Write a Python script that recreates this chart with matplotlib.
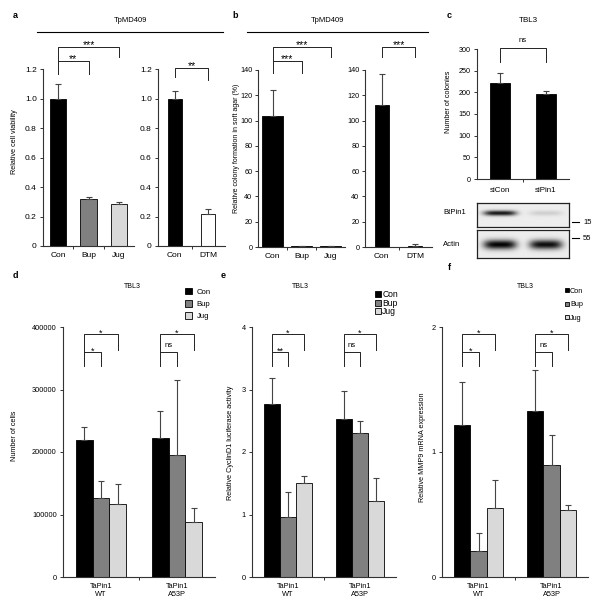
import numpy as np
import matplotlib
matplotlib.use('Agg')
import matplotlib.pyplot as plt
from matplotlib.transforms import blended_transform_factory
from matplotlib.patches import Patch

plt.rcParams['font.family'] = ['Liberation Sans', 'DejaVu Sans']

# ---------------- data ----------------
a_cats = ['Con', 'Bup', 'Jug']
a_vals = [1.0, 0.32, 0.285]
a_err = [0.095, 0.01, 0.015]
a2_cats = ['Con', 'DTM']
a2_vals = [1.0, 0.22]
a2_err = [0.05, 0.03]

b_cats = ['Con', 'Bup', 'Jug']
b_vals = [104, 0.6, 0.6]
b_err = [20, 0.4, 0.4]
b2_cats = ['Con', 'DTM']
b2_vals = [112, 1.0]
b2_err = [25, 1.0]

c_cats = ['siCon', 'siPin1']
c_vals = [222, 197]
c_err = [22, 6]
blot_btpin1 = [0.85, 0.12]
blot_actin = [0.92, 0.88]
blot_markers = ['15', '55']

groups = ['TaPin1\nWT', 'TaPin1\nA53P']
treatments = ['Con', 'Bup', 'Jug']
d_con = [220000, 223000]; d_con_err = [20000, 42000]
d_bup = [127000, 195000]; d_bup_err = [27000, 120000]
d_jug = [117000, 88000];  d_jug_err = [32000, 23000]
e_con = [2.77, 2.53]; e_con_err = [0.42, 0.45]
e_bup = [0.96, 2.30]; e_bup_err = [0.40, 0.19]
e_jug = [1.51, 1.21]; e_jug_err = [0.10, 0.37]
f_con = [1.22, 1.33]; f_con_err = [0.34, 0.33]
f_bup = [0.21, 0.90]; f_bup_err = [0.14, 0.24]
f_jug = [0.55, 0.535]; f_jug_err = [0.23, 0.04]

treat_colors = ['#000000', '#808080', '#d9d9d9']

# ---------------- helpers ----------------
W, H = 601, 615
fig = plt.figure(figsize=(W / 100, H / 100), dpi=100)


def axpx(l, t, r, b):
    return fig.add_axes([l / W, 1 - b / H, (r - l) / W, (b - t) / H])


def ftext(x, y, s, **kw):
    return fig.text(x / W, 1 - y / H, s, **kw)


def style(ax, n, ylim, yticks, ylabels, fs, xfs, labels, ypad=2):
    ax.set_xlim(-0.5, n - 0.5)
    ax.set_ylim(*ylim)
    for s in ['top', 'right']:
        ax.spines[s].set_visible(False)
    for s in ['left', 'bottom']:
        ax.spines[s].set_color('#333333')
        ax.spines[s].set_linewidth(0.8)
    ax.set_yticks(yticks)
    ax.set_yticklabels(ylabels, fontsize=fs)
    ax.set_xticks(np.arange(n))
    ax.set_xticklabels(labels, fontsize=xfs)
    ax.set_xticks(np.arange(1, n) - 0.5, minor=True)
    ax.tick_params(axis='y', direction='out', length=2.5, width=0.7, color='#333333', pad=ypad)
    ax.tick_params(axis='x', which='major', length=0, pad=4)
    ax.tick_params(axis='x', which='minor', length=2.5, width=0.7, direction='out', color='#333333')


def ebar(ax, x, vals, errs):
    ax.errorbar(x, vals, yerr=[np.zeros(len(vals)), errs], fmt='none', ecolor='#444444',
                elinewidth=0.8, capsize=2, capthick=0.8, zorder=3)


def bracket(ax, x1, x2, ytop, yl, yr, text, fs=7.5, dy=-1.0):
    tr = blended_transform_factory(ax.transData, ax.transAxes)
    ax.plot([x1, x1, x2, x2], [yl, ytop, ytop, yr], color='#222222', lw=0.7,
            transform=tr, clip_on=False)
    ax.annotate(text, xy=((x1 + x2) / 2, ytop), xycoords=tr, xytext=(0, dy),
                textcoords='offset points', ha='center', va='baseline', fontsize=fs)


def simple(ax, cats, vals, errs, colors, width):
    x = np.arange(len(cats))
    ax.bar(x, vals, width, color=colors, edgecolor='black', linewidth=0.6, zorder=2)
    ebar(ax, x, vals, errs)
    return x


# ---------------- panel a ----------------
axa = axpx(43, 69, 134, 246)
simple(axa, a_cats, a_vals, a_err, treat_colors, 0.54)
style(axa, 3, (0, 1.2), [0, .2, .4, .6, .8, 1.0, 1.2],
      ['0', '0.2', '0.4', '0.6', '0.8', '1.0', '1.2'], 6, 6, a_cats)
bracket(axa, 0, 2, 1.124, 1.045, 1.068, '***')
bracket(axa, 0, 1, 1.045, 0.972, 0.972, '**')

axa2 = axpx(158, 69, 225, 246)
simple(axa2, a2_cats, a2_vals, a2_err, ['#000000', '#ffffff'], 0.42)
style(axa2, 2, (0, 1.2), [0, .2, .4, .6, .8, 1.0, 1.2],
      ['0', '0.2', '0.4', '0.6', '0.8', '1.0', '1.2'], 6, 6, a2_cats)
bracket(axa2, 0, 1, 1.006, 0.955, 0.938, '**')

ftext(15, 15, 'a', fontsize=6.5, fontweight='bold', ha='center', va='center')
ftext(130, 21, 'TpMD409', fontsize=5.5, ha='center', va='center')
fig.add_artist(plt.Line2D([37 / W, 223 / W], [1 - 32 / H, 1 - 32 / H], color='black', lw=0.8))
ftext(15, 142, 'Relative cell viability', fontsize=5.2, rotation=90, ha='center', va='center')

# ---------------- panel b ----------------
axb = axpx(258, 70, 345, 247)
simple(axb, b_cats, b_vals, b_err, ['#000000'] * 3, 0.72)
style(axb, 3, (0, 140), np.arange(0, 141, 20), [str(v) for v in range(0, 141, 20)], 5.2, 6, b_cats,
      ypad=1.5)
bracket(axb, 0, 2, 1.130, 1.051, 1.073, '***')
bracket(axb, 0, 1, 1.051, 0.983, 0.983, '***')

axb2 = axpx(365, 70, 432, 247)
simple(axb2, b2_cats, b2_vals, b2_err, ['#000000'] * 2, 0.42)
style(axb2, 2, (0, 140), np.arange(0, 141, 20), [str(v) for v in range(0, 141, 20)], 5.2, 6, b2_cats,
      ypad=1.5)
bracket(axb2, 0, 1, 1.130, 1.073, 1.073, '***')

ftext(235, 15, 'b', fontsize=6.5, fontweight='bold', ha='center', va='center')
ftext(327, 21, 'TpMD409', fontsize=5.5, ha='center', va='center')
fig.add_artist(plt.Line2D([247 / W, 428 / W], [1 - 32 / H, 1 - 32 / H], color='black', lw=0.8))
ftext(237, 148, 'Relative colony formation in soft agar (%)', fontsize=5.0, rotation=90,
      ha='center', va='center')

# ---------------- panel c ----------------
axc = axpx(477, 49, 569, 179)
simple(axc, c_cats, c_vals, c_err, ['#000000'] * 2, 0.43)
style(axc, 2, (0, 300), np.arange(0, 301, 50), [str(v) for v in range(0, 301, 50)], 5.2, 5.8, c_cats)
axc.tick_params(axis='x', which='major', pad=6)
bracket(axc, 0, 1, 1.008, 0.9, 0.9, 'ns', fs=5.5, dy=4.5)
ftext(449, 15, 'c', fontsize=6.5, fontweight='bold', ha='center', va='center')
ftext(528, 21, 'TBL3', fontsize=5.8, ha='center', va='center')
ftext(448, 102, 'Number of colonies', fontsize=5.2, rotation=90, ha='center', va='center')

# western blot
blot_specs = [(blot_btpin1, 203, 227, 0.58, 0.11), (blot_actin, 230, 258, 0.48, 0.17)]
xs = np.linspace(-0.5, 1.5, 200)
ys = np.linspace(0, 1, 60)
XX, YY = np.meshgrid(xs, ys)
for intens, top, bot, yc, wy in blot_specs:
    bax = axpx(477, top, 569, bot)
    img = np.full_like(XX, 0.07)
    for lane, amp in enumerate(intens):
        img += amp * np.exp(-np.abs((XX - lane) / 0.36) ** 4) * np.exp(-((YY - yc) / wy) ** 2)
    bax.imshow(np.clip(img, 0, 1), cmap='gray_r', vmin=0, vmax=1.0, extent=(-0.5, 1.5, 0, 1),
               origin='lower', aspect='auto', interpolation='bilinear')
    bax.set_xticks([]); bax.set_yticks([])
    for s in bax.spines.values():
        s.set_color('#222222'); s.set_linewidth(0.9)
ftext(443, 213, 'BtPin1', fontsize=5.5, ha='left', va='center')
ftext(443, 244, 'Actin', fontsize=5.5, ha='left', va='center')
for lab, yy in zip(blot_markers, [222, 238]):
    fig.add_artist(plt.Line2D([572 / W, 579 / W], [1 - yy / H, 1 - yy / H], color='black', lw=0.8))
    ftext(583, yy, lab, fontsize=5.5, ha='left', va='center')

# ---------------- grouped panels d, e, f ----------------
def grouped(ax, vals, errs, width):
    x = np.arange(len(groups))
    for i, (v, e, col) in enumerate(zip(vals, errs, treat_colors)):
        xi = x + (i - 1) * width
        ax.bar(xi, v, width, color=col, edgecolor='black', linewidth=0.6, zorder=2, label=treatments[i])
        ebar(ax, xi, v, e)
    return x


def sig_groups(ax, width, labels, fs=6.5):
    for g, (outer, inner) in enumerate(labels):
        bracket(ax, g - width, g + width, 0.972, 0.9, 0.908, outer, fs=fs, dy=-1.0)
        if inner == 'ns':
            bracket(ax, g - width, g, 0.9, 0.844, 0.844, inner, fs=5.5, dy=3.5)
        else:
            bracket(ax, g - width, g, 0.9, 0.844, 0.844, inner, fs=fs, dy=-1.0)


def legend(ax, x, y, fs, ls, hl, htp):
    handles = [Patch(facecolor=c, edgecolor='black', linewidth=0.6) for c in treat_colors]
    ax.legend(handles, treatments, loc='upper left', bbox_to_anchor=(x / W, 1 - y / H),
              bbox_transform=fig.transFigure, frameon=False, fontsize=fs, borderpad=0,
              borderaxespad=0, labelspacing=ls, handlelength=hl, handleheight=hl,
              handletextpad=htp)


bw = 0.222
axd = axpx(63, 327, 215, 577)
grouped(axd, [d_con, d_bup, d_jug], [d_con_err, d_bup_err, d_jug_err], bw)
style(axd, 2, (0, 400000), np.arange(0, 400001, 100000),
      ['0', '100000', '200000', '300000', '400000'], 5.3, 5.3, groups)
sig_groups(axd, bw, [('*', '*'), ('*', 'ns')])
legend(axd, 185, 288, 5.6, 0.55, 0.9, 0.6)
ftext(15, 276, 'd', fontsize=6.5, fontweight='bold', ha='center', va='center')
ftext(132, 287, 'TBL3', fontsize=5.0, ha='center', va='center')
ftext(15, 436, 'Number of cells', fontsize=5.2, rotation=90, ha='center', va='center')

axe = axpx(252, 327, 396, 577)
grouped(axe, [e_con, e_bup, e_jug], [e_con_err, e_bup_err, e_jug_err], bw)
style(axe, 2, (0, 4), [0, 1, 2, 3, 4], ['0', '1', '2', '3', '4'], 5.3, 5.3, groups)
sig_groups(axe, bw, [('*', '**'), ('*', 'ns')])
legend(axe, 375, 290, 6.2, -0.05, 0.7, 0.15)
ftext(223, 276, 'e', fontsize=6.5, fontweight='bold', ha='center', va='center')
ftext(300, 287, 'TBL3', fontsize=5.0, ha='center', va='center')
ftext(230, 443, 'Relative CyclinD1 luciferase activity', fontsize=5.2, rotation=90,
      ha='center', va='center')

axf = axpx(442, 327, 588, 577)
grouped(axf, [f_con, f_bup, f_jug], [f_con_err, f_bup_err, f_jug_err], bw)
style(axf, 2, (0, 2), [0, 1, 2], ['0', '1', '2'], 5.3, 5.3, groups)
sig_groups(axf, bw, [('*', '*'), ('*', 'ns')])
legend(axf, 565, 288, 5.2, 0.9, 0.5, 0.2)
ftext(449, 268, 'f', fontsize=6.5, fontweight='bold', ha='center', va='center')
ftext(525, 287, 'TBL3', fontsize=5.0, ha='center', va='center')
ftext(422, 447, 'Relative MMP9 mRNA expression', fontsize=5.2, rotation=90,
      ha='center', va='center')

fig.savefig('out.png', dpi=100, facecolor='white')
